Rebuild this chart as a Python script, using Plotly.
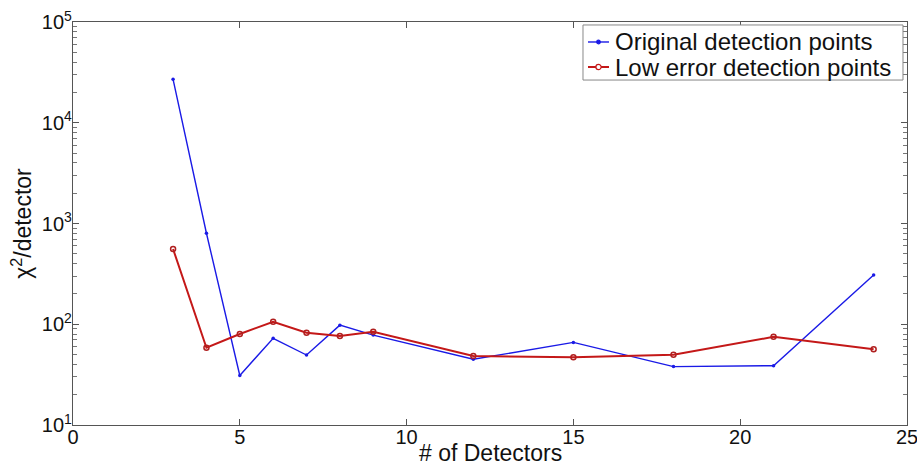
import plotly.graph_objects as go

# Number of detectors used in each fit
detectors = [3, 4, 5, 6, 7, 8, 9, 12, 15, 18, 21, 24]

# chi^2 per detector for each selection of detection points
original_points = [27000, 800, 31, 72.6, 49.5, 98, 78, 44.9, 66, 38, 38.8, 308]
low_error_points = [558, 58.5, 80, 106, 82.4, 76.4, 84.3, 48.4, 47, 49.9, 75, 56.4]

series_names = ["Original detection points", "Low error detection points"]

y_tick_vals = [10, 100, 1000, 10000, 100000]
y_tick_text = ["10<sup>1</sup>", "10<sup>2</sup>", "10<sup>3</sup>", "10<sup>4</sup>", "10<sup>5</sup>"]

FONT = "Liberation Sans, Arial, sans-serif"
BLUE = "#1a1ae6"
RED = "#c41818"

fig = go.Figure()
fig.add_trace(go.Scatter(
    x=detectors, y=original_points, mode="lines+markers",
    name=series_names[0],
    line=dict(color=BLUE, width=1.4),
    marker=dict(symbol="circle", size=3.5, color=BLUE),
))
fig.add_trace(go.Scatter(
    x=detectors, y=low_error_points, mode="lines+markers",
    name=series_names[1],
    line=dict(color=RED, width=2),
    marker=dict(symbol="circle-open", size=5, color="#b02020", line=dict(width=1.5)),
))

axis_common = dict(
    showline=True, linecolor="#555555", linewidth=1.2, mirror="ticks",
    ticks="inside", ticklen=6, tickcolor="#555555",
    showgrid=False, zeroline=False, automargin=False,
    ticklabeloverflow="allow",
    tickfont=dict(family=FONT, size=20, color="#111111"),
)

fig.update_xaxes(
    range=[0, 25], tickvals=[0, 5, 10, 15, 20, 25], ticklabelstandoff=-6,
    **axis_common,
)
fig.update_yaxes(
    type="log", range=[1, 5], tickvals=y_tick_vals, ticktext=y_tick_text,
    ticklabelstandoff=-4,
    minor=dict(ticks="inside", ticklen=4, tickcolor="#777777", dtick="D1", showgrid=False),
    **axis_common,
)

# Axis titles
fig.add_annotation(xref="paper", yref="paper", x=0.5, y=-0.104,
                   xanchor="center", yanchor="bottom", showarrow=False, borderpad=0,
                   text="# of Detectors", font=dict(family=FONT, size=23, color="#111111"))
fig.add_annotation(xref="paper", yref="paper", x=-0.062, y=0.5, textangle=-90,
                   xanchor="center", yanchor="middle", showarrow=False,
                   text="χ<sup>2</sup>/detector", font=dict(family=FONT, size=23, color="#111111"))

# Boxed legend in the upper right corner of the axes
legend_box = dict(x0=0.6115, x1=0.9952, y0=0.856, y1=0.9926)
row_y = [0.9504, 0.8883]
sample_x = [0.6175, 0.6427]
text_x = 0.6475
fig.add_shape(type="rect", xref="paper", yref="paper", line=dict(color="#888888", width=1),
              fillcolor="white", layer="above", **legend_box)
styles = [
    dict(color=BLUE, width=1.4, r=1.8, fill=BLUE),
    dict(color=RED, width=2, r=2.6, fill="white"),
]
for name, y, st in zip(series_names, row_y, styles):
    fig.add_shape(type="line", xref="paper", yref="paper", layer="above",
                  x0=sample_x[0], x1=sample_x[1], y0=y, y1=y,
                  line=dict(color=st["color"], width=st["width"]))
    fig.add_shape(type="circle", xref="paper", yref="paper", layer="above",
                  xsizemode="pixel", ysizemode="pixel",
                  xanchor=(sample_x[0] + sample_x[1]) / 2, yanchor=y,
                  x0=-st["r"], x1=st["r"], y0=-st["r"], y1=st["r"],
                  fillcolor=st["fill"], line=dict(color=st["color"], width=1.2))
    fig.add_annotation(xref="paper", yref="paper", x=text_x, y=y,
                       xanchor="left", yanchor="middle", showarrow=False,
                       text=name, font=dict(family=FONT, size=24, color="#111111"))

fig.update_layout(
    width=917, height=465,
    margin=dict(l=73, r=10, t=22, b=40),
    plot_bgcolor="white", paper_bgcolor="white",
    font=dict(family=FONT, color="#111111"),
    showlegend=False,
)

fig.write_html("out.html")
